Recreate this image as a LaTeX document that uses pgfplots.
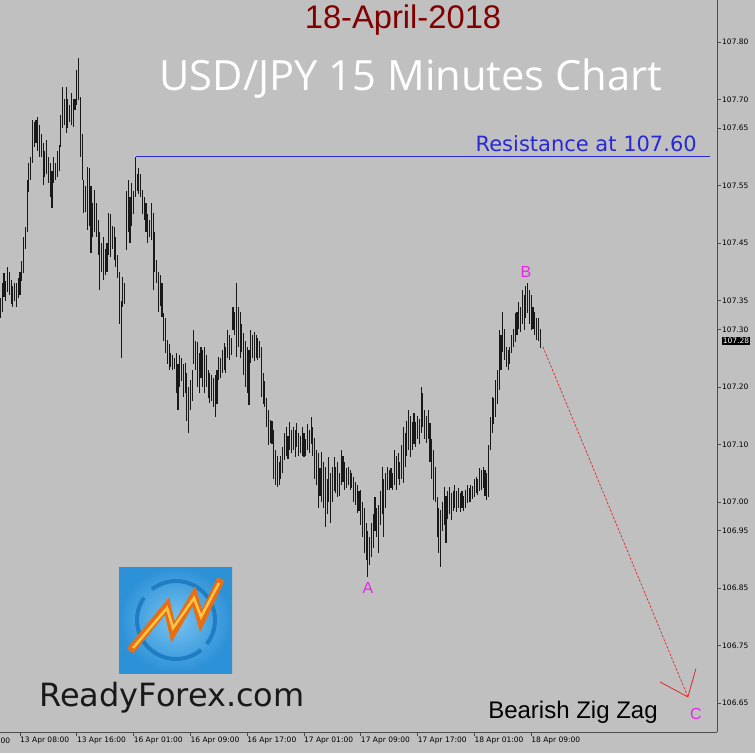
\documentclass[border=0pt]{standalone}
\usepackage{pgfplots}
\pgfplotsset{compat=1.18}
\usepackage{pgfplotstable}
\usepackage{fontspec}
\setmainfont{DejaVu Sans}
\newfontfamily\arial{Liberation Sans}
\newfontfamily\osans{Open Sans}
\definecolor{bg}{RGB}{192,192,192}
\definecolor{resblue}{RGB}{40,40,215}
\definecolor{datered}{RGB}{128,0,0}
\definecolor{mag}{RGB}{230,40,230}
\definecolor{arrred}{RGB}{225,40,40}
\definecolor{logolight}{RGB}{120,195,240}
\definecolor{logodark}{RGB}{45,145,215}
\definecolor{logoring}{RGB}{30,125,195}
\definecolor{logoorange}{RGB}{230,110,20}
\definecolor{logoyellow}{RGB}{255,195,70}

\pgfplotstableread{
x hi lo
-11 107.355 107.320
-10 107.380 107.330
-9 107.398 107.357
-8 107.385 107.350
-7 107.409 107.365
-6 107.400 107.360
-5 107.386 107.345
-4 107.375 107.339
-3 107.380 107.350
-2 107.381 107.339
-1 107.390 107.355
0 107.400 107.360
1 107.420 107.385
2 107.461 107.398
3 107.478 107.440
4 107.560 107.470
5 107.590 107.539
6 107.600 107.560
7 107.664 107.590
8 107.660 107.617
9 107.664 107.625
10 107.670 107.610
11 107.655 107.600
12 107.640 107.600
13 107.624 107.551
14 107.610 107.565
15 107.630 107.570
16 107.600 107.555
17 107.590 107.530
18 107.575 107.511
19 107.600 107.555
20 107.590 107.560
21 107.610 107.565
22 107.621 107.575
23 107.673 107.617
24 107.722 107.650
25 107.700 107.655
26 107.722 107.642
27 107.700 107.650
28 107.690 107.660
29 107.711 107.655
30 107.700 107.652
31 107.700 107.682
32 107.751 107.690
33 107.772 107.699
34 107.704 107.600
35 107.640 107.560
36 107.560 107.503
37 107.550 107.505
38 107.583 107.473
39 107.581 107.480
40 107.550 107.433
41 107.520 107.460
42 107.543 107.470
43 107.520 107.461
44 107.490 107.430
45 107.470 107.369
46 107.450 107.400
47 107.461 107.386
48 107.440 107.395
49 107.450 107.400
50 107.503 107.430
51 107.500 107.426
52 107.480 107.440
53 107.478 107.420
54 107.460 107.409
55 107.430 107.390
56 107.400 107.310
57 107.350 107.250
58 107.391 107.339
59 107.380 107.345
60 107.540 107.438
61 107.560 107.470
62 107.530 107.450
63 107.555 107.480
64 107.540 107.500
65 107.600 107.530
66 107.570 107.540
67 107.581 107.535
68 107.570 107.530
69 107.543 107.500
70 107.530 107.490
71 107.520 107.470
72 107.500 107.450
73 107.490 107.460
74 107.520 107.455
75 107.503 107.369
76 107.470 107.400
77 107.421 107.381
78 107.400 107.330
79 107.395 107.340
80 107.380 107.322
81 107.329 107.280
82 107.320 107.259
83 107.282 107.240
84 107.275 107.230
85 107.259 107.235
86 107.255 107.230
87 107.250 107.232
88 107.259 107.190
89 107.240 107.160
90 107.255 107.200
91 107.250 107.210
92 107.240 107.183
93 107.242 107.190
94 107.225 107.140
95 107.200 107.120
96 107.212 107.160
97 107.230 107.175
98 107.299 107.240
99 107.280 107.230
100 107.278 107.200
101 107.260 107.190
102 107.270 107.215
103 107.265 107.200
104 107.270 107.190
105 107.255 107.200
106 107.230 107.180
107 107.225 107.172
108 107.220 107.175
109 107.215 107.165
110 107.221 107.148
111 107.230 107.170
112 107.252 107.212
113 107.250 107.215
114 107.265 107.224
115 107.276 107.230
116 107.270 107.225
117 107.299 107.250
118 107.290 107.247
119 107.285 107.255
120 107.339 107.299
121 107.330 107.290
122 107.381 107.252
123 107.339 107.270
124 107.330 107.250
125 107.310 107.260
126 107.294 107.220
127 107.280 107.200
128 107.270 107.190
129 107.265 107.169
130 107.299 107.242
131 107.290 107.250
132 107.295 107.245
133 107.290 107.250
134 107.285 107.247
135 107.280 107.250
136 107.270 107.183
137 107.224 107.170
138 107.210 107.165
139 107.180 107.130
140 107.160 107.099
141 107.143 107.103
142 107.140 107.100
143 107.125 107.040
144 107.090 107.030
145 107.080 107.026
146 107.070 107.030
147 107.080 107.040
148 107.095 107.050
149 107.120 107.073
150 107.130 107.080
151 107.115 107.075
152 107.139 107.090
153 107.125 107.085
154 107.130 107.090
155 107.125 107.078
156 107.137 107.095
157 107.120 107.080
158 107.115 107.085
159 107.130 107.080
160 107.120 107.078
161 107.110 107.080
162 107.135 107.090
163 107.125 107.085
164 107.148 107.100
165 107.130 107.080
166 107.111 107.040
167 107.090 107.030
168 107.085 106.990
169 107.060 107.010
170 107.087 107.000
171 107.070 106.990
172 107.060 106.957
173 107.040 106.980
174 107.078 107.000
175 107.050 106.964
176 107.060 107.000
177 107.078 107.020
178 107.060 107.015
179 107.070 107.009
180 107.050 107.010
181 107.090 107.030
182 107.080 107.035
183 107.070 107.021
184 107.060 107.025
185 107.061 107.030
186 107.055 107.021
187 107.050 107.025
188 107.044 107.000
189 107.035 106.995
190 107.030 106.981
191 107.020 106.985
192 107.021 106.960
193 107.000 106.940
194 106.990 106.911
195 106.964 106.900
196 106.950 106.870
197 106.940 106.890
198 106.964 106.905
199 106.980 106.920
200 107.009 106.950
201 106.990 106.940
202 106.995 106.911
203 107.020 106.960
204 107.061 106.980
205 107.040 106.939
206 107.050 106.990
207 107.061 107.021
208 107.055 107.021
209 107.060 107.025
210 107.050 107.021
211 107.090 107.030
212 107.080 107.021
213 107.085 107.040
214 107.070 107.030
215 107.100 107.040
216 107.130 107.033
217 107.120 107.060
218 107.140 107.080
219 107.160 107.090
220 107.150 107.078
221 107.140 107.090
222 107.155 107.100
223 107.140 107.096
224 107.150 107.110
225 107.145 107.100
226 107.200 107.120
227 107.190 107.130
228 107.160 107.110
229 107.150 107.103
230 107.160 107.110
231 107.137 107.070
232 107.110 107.040
233 107.090 107.003
234 107.060 107.000
235 107.009 106.940
236 106.990 106.911
237 106.986 106.887
238 107.000 106.950
239 107.026 106.960
240 107.010 106.929
241 107.020 106.970
242 107.026 106.980
243 107.015 106.969
244 107.020 106.985
245 107.030 106.990
246 107.020 106.983
247 107.025 106.990
248 107.015 106.983
249 107.020 106.990
250 107.010 106.985
251 107.021 106.990
252 107.030 106.998
253 107.025 107.000
254 107.030 107.000
255 107.028 107.005
256 107.040 107.009
257 107.044 107.015
258 107.040 107.012
259 107.059 107.020
260 107.055 107.021
261 107.061 107.025
262 107.055 107.010
263 107.050 107.003
264 107.100 107.009
265 107.148 107.090
266 107.183 107.120
267 107.180 107.135
268 107.212 107.148
269 107.230 107.170
270 107.299 107.195
271 107.290 107.230
272 107.330 107.260
273 107.300 107.247
274 107.270 107.235
275 107.265 107.230
276 107.270 107.240
277 107.290 107.259
278 107.300 107.270
279 107.329 107.278
280 107.330 107.290
281 107.348 107.300
282 107.340 107.296
283 107.369 107.310
284 107.360 107.299
285 107.375 107.320
286 107.381 107.329
287 107.369 107.310
288 107.360 107.299
289 107.339 107.300
290 107.330 107.290
291 107.320 107.282
292 107.320 107.280
293 107.300 107.268
}\bars

\begin{document}
\begin{tikzpicture}
\fill[bg] (0pt,0pt) rectangle (755pt,-753pt);
\begin{axis}[
  at={(0pt,0pt)}, anchor=north west,
  scale only axis, width=717pt, height=732pt,
  xmin=-11.27, xmax=392.7, ymin=106.600, ymax=107.873,
  axis x line*=bottom, axis y line*=right,
  axis line style={black!70, line width=0.9pt},
  tick align=outside, major tick length=4pt,
  tick style={black!70, line width=0.8pt},
  xtick={0,32,64,96,128,160,192,224,256,288},
  xticklabels={13 Apr 08:00,13 Apr 16:00,16 Apr 01:00,16 Apr 09:00,16 Apr 17:00,17 Apr 01:00,17 Apr 09:00,17 Apr 17:00,18 Apr 01:00,18 Apr 09:00},
  x tick label style={anchor=north west, inner sep=1pt, xshift=-1pt, font=\fontsize{7.5}{8}\selectfont, text=black},
  ytick={106.65,106.75,106.85,106.95,107.00,107.10,107.20,107.30,107.35,107.45,107.55,107.65,107.70,107.80},
  yticklabels={106.65,106.75,106.85,106.95,107.00,107.10,107.20,107.30,107.35,107.45,107.55,107.65,107.70,107.80},
  y tick label style={anchor=west, inner sep=1pt, font=\fontsize{7.5}{8}\selectfont, text=black},
]
\addplot[mark=none, draw=none,
  error bars/.cd, y dir=plus, y explicit, error mark=none,
  error bar style={draw=black!90, line width=1.1pt}]
  table[x=x, y=lo, y error expr=\thisrow{hi}-\thisrow{lo}] {\bars};
% resistance line
\addplot[resblue, line width=1pt] coordinates {(65.4,107.60) (388.7,107.60)};
% projected leg B-C
\addplot[arrred, line width=0.7pt, dash pattern=on 2.5pt off 1.5pt] coordinates {(294.6,107.270) (376.3,106.661)};
\addplot[arrred, line width=0.8pt] coordinates {(360.6,106.687) (376.3,106.661) (380.8,106.710)};
\node[anchor=base east, text=resblue, font=\fontsize{21}{24}\selectfont, inner sep=0pt] at (axis cs:381.4,107.609) {Resistance at 107.60};
\node[text=mag, font=\arial\fontsize{16}{18}\selectfont] at (axis cs:196,106.850) {A};
\node[text=mag, font=\arial\fontsize{16}{18}\selectfont] at (axis cs:285,107.400) {B};
\node[text=mag, font=\arial\fontsize{16}{18}\selectfont] at (axis cs:380.8,106.631) {C};
\end{axis}
\begin{scope}[x=1pt,y=-1pt]
  % price label
  \node[fill=black, text=white, inner sep=1pt, font=\fontsize{7.5}{8}\selectfont] at (736,341) {107.28};
  % end of the cut label at left
  \node[anchor=north west, inner sep=0.5pt, font=\fontsize{7.5}{8}\selectfont, text=black] at (0,737) {00};
  % titles
  \node[anchor=base, text=datered, font=\arial\fontsize{32.7}{35}\selectfont, inner sep=0pt] at (403,28.5) {18-April-2018};
  \node[anchor=base, text=white, font=\osans\fontsize{41.7}{45}\selectfont, inner sep=0pt] at (411,90) {USD/JPY 15 Minutes Chart};
  \node[anchor=base, text=black, font=\arial\fontsize{24}{26}\selectfont, inner sep=0pt] at (573,718) {Bearish Zig Zag};
  \node[anchor=base, text=black!90, font=\fontsize{32}{35}\selectfont, inner sep=0pt] at (172,706) {ReadyForex.com};
  % logo
  \shade[inner color=logolight, outer color=logodark] (119,567) rectangle (232,673);
  \draw[draw=logoring, line width=4pt] ([shift={(176,620)}]50:39) arc[start angle=50, end angle=215, radius=39];
  \draw[draw=logoring, line width=4pt] ([shift={(176,620)}]232:39) arc[start angle=232, end angle=398, radius=39];
  \draw[draw=logoorange, line width=8pt, line join=miter, line cap=butt] (130,651) -- (167,606) -- (173,632) -- (194,596) -- (201,621) -- (221,579);
  \draw[draw=logoyellow, line width=2.5pt, line join=miter] (133,648) -- (167,608) -- (173,628) -- (194,598) -- (201,617) -- (219,583);
\end{scope}
\pgfresetboundingbox
\path[use as bounding box] (0pt,0pt) rectangle (755pt,-753pt);
\end{tikzpicture}
\end{document}
